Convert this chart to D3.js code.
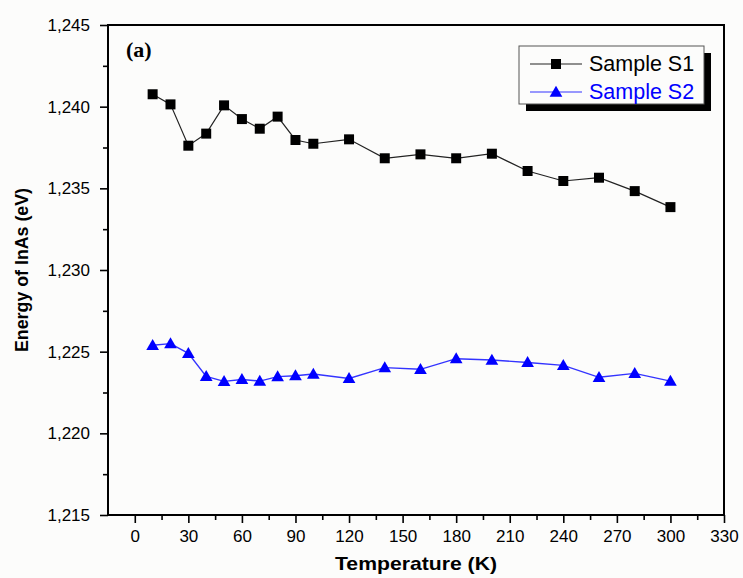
<!DOCTYPE html>
<html><head><meta charset="utf-8">
<script src="https://cdn.jsdelivr.net/npm/d3@7"></script>
<style>
html,body{margin:0;padding:0;background:#fcfcfb;}
svg{display:block;}
text{font-family:Arial,"Liberation Sans",sans-serif;}
</style></head>
<body>
<script>
const temperatures = [10,20,30,40,50,60,70,80,90,100,120,140,160,180,200,220,240,260,280,300];
const sampleS1 = [1.24076,1.24014,1.23761,1.23835,1.24008,1.23924,1.23865,1.23939,1.23796,1.23773,1.23800,1.23684,1.23708,1.23684,1.23712,1.23606,1.23545,1.23565,1.23483,1.23385];
const sampleS2 = [1.22539,1.22549,1.22490,1.22349,1.22318,1.22330,1.22320,1.22347,1.22353,1.22363,1.22336,1.22402,1.22392,1.22457,1.22449,1.22434,1.22416,1.22343,1.22367,1.22320];
const seriesNames = ["Sample S1","Sample S2"];
const xTicks = [0,30,60,90,120,150,180,210,240,270,300,330];
const yTicks = [1.215,1.220,1.225,1.230,1.235,1.240,1.245];

const W=743,H=578;
const svg=d3.select("body").append("svg").attr("width",W).attr("height",H);
svg.append("rect").attr("width",W).attr("height",H).attr("fill","#fcfcfb");

const L=108,R=724,T=25,B=515;
const x=d3.scaleLinear().domain([-15,330]).range([L,R]);
const y=d3.scaleLinear().domain([1.215,1.245]).range([B,T]);
const fmt=v=>d3.format(".3f")(v).replace(".",",");

const xMinor=d3.range(15,330,30);
const yMinor=d3.range(1.2175,1.245,0.005);

const gx=svg.append("g").attr("transform",`translate(0,${B})`);
gx.call(d3.axisBottom(x).tickValues(xTicks).tickSize(8).tickPadding(7).tickFormat(d3.format("d")));
gx.append("g").call(d3.axisBottom(x).tickValues(xMinor).tickSize(5).tickFormat(""));
gx.selectAll(".domain").remove();
gx.selectAll("line").attr("stroke","#000").attr("stroke-width",1.6);
gx.selectAll("text").attr("font-size",17).attr("fill","#000");

const gy=svg.append("g").attr("transform",`translate(${L},0)`);
gy.call(d3.axisLeft(y).tickValues(yTicks).tickSize(8).tickPadding(10).tickFormat(fmt));
gy.append("g").call(d3.axisLeft(y).tickValues(yMinor).tickSize(5).tickFormat(""));
gy.selectAll(".domain").remove();
gy.selectAll("line").attr("stroke","#000").attr("stroke-width",1.6);
gy.selectAll("text").attr("font-size",17).attr("fill","#000");

svg.append("rect").attr("x",L).attr("y",T).attr("width",R-L).attr("height",B-T)
  .attr("fill","none").attr("stroke","#000").attr("stroke-width",2);

svg.append("text").attr("x",(L+R)/2).attr("y",570).attr("text-anchor","middle")
  .attr("font-size",19).attr("font-weight","bold").attr("textLength",162).attr("lengthAdjust","spacingAndGlyphs")
  .text("Temperature (K)");
svg.append("text").attr("transform",`translate(28,${(T+B)/2}) rotate(-90)`).attr("text-anchor","middle")
  .attr("font-size",19).attr("font-weight","bold").attr("textLength",164).attr("lengthAdjust","spacingAndGlyphs")
  .text("Energy of InAs (eV)");
svg.append("text").attr("x",126).attr("y",57).style("font-family","'Liberation Serif','Times New Roman',serif")
  .attr("font-size",22).attr("font-weight","bold").text("(a)");

const line=d3.line().x(d=>x(d[0])).y(d=>y(d[1]));
const d1=temperatures.map((t,i)=>[t,sampleS1[i]]);
const d2=temperatures.map((t,i)=>[t,sampleS2[i]]);
const sq=d3.symbol().type(d3.symbolSquare).size(100);
const tri=d3.symbol().type(d3.symbolTriangle).size(70);

svg.append("path").datum(d1).attr("d",line).attr("fill","none").attr("stroke","#222").attr("stroke-width",1.2);
svg.selectAll(".s1").data(d1).join("path").attr("class","s1").attr("d",sq)
  .attr("transform",d=>`translate(${x(d[0])},${y(d[1])})`).attr("fill","#000");

svg.append("path").datum(d2).attr("d",line).attr("fill","none").attr("stroke","#3333ff").attr("stroke-width",1.4);
svg.selectAll(".s2").data(d2).join("path").attr("class","s2").attr("d",tri)
  .attr("transform",d=>`translate(${x(d[0])},${y(d[1])+1})`).attr("fill","#0000ff");

const lg=svg.append("g");
lg.append("rect").attr("x",526).attr("y",53).attr("width",185).attr("height",58).attr("fill","#000");
lg.append("rect").attr("x",519).attr("y",46).attr("width",185).attr("height",58).attr("fill","#fcfcfb").attr("stroke","#555").attr("stroke-width",1);
const items=[{n:seriesNames[0],c:"#000",s:sq,lc:"#222"},{n:seriesNames[1],c:"#0000ff",s:tri,lc:"#3333ff"}];
items.forEach((it,i)=>{
  const yy=64+i*28;
  lg.append("line").attr("x1",530).attr("x2",582).attr("y1",yy).attr("y2",yy).attr("stroke",it.lc).attr("stroke-width",1.2);
  lg.append("path").attr("d",it.s).attr("transform",`translate(556,${yy+(i?1:0)})`).attr("fill",it.c);
  lg.append("text").attr("x",589).attr("y",yy+7).attr("font-size",21.5).attr("fill",it.c).text(it.n);
});
</script>
</body></html>
